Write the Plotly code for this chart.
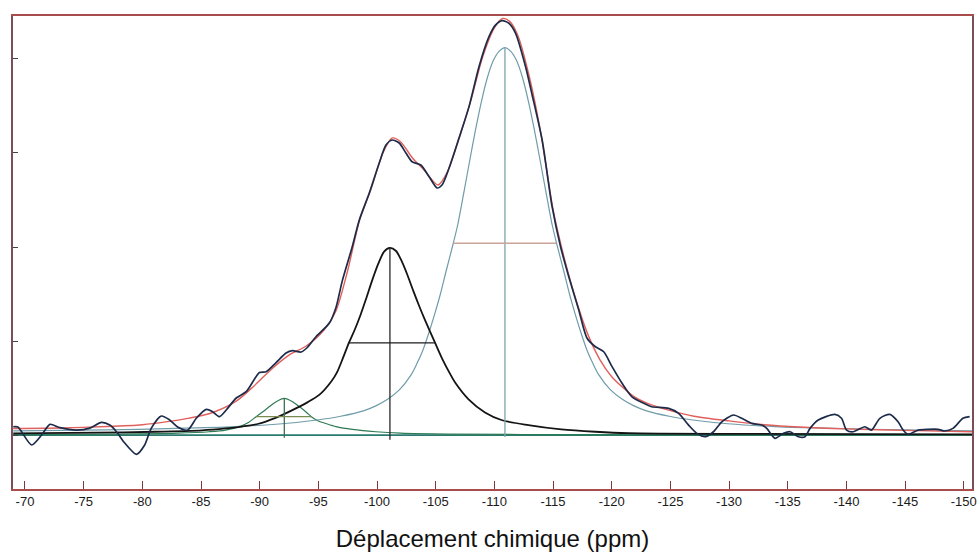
import plotly.graph_objects as go

# ---------------- data (ppm, arbitrary intensity) ----------------
exp_ppm = [-69.0, -69.4, -70.57, -71.42, -72.13, -72.98, -74.40, -75.53, -76.52, -77.23, -77.80, -78.50,
           -79.50, -80.20, -80.77, -81.62, -82.33, -83.01, -83.86, -84.60, -85.45, -85.99, -86.58, -87.15,
           -88.00, -88.85, -89.98, -90.55, -91.40, -92.25, -92.79, -93.53, -94.06, -94.80, -95.94, -96.51,
           -97.04, -97.89, -98.49, -99.34, -100.19, -100.76, -101.29, -101.89, -102.46, -102.99, -103.73,
           -104.44, -105.12, -105.54, -106.14, -106.99, -107.84, -108.69, -109.54, -110.11, -110.67, -111.24,
           -111.81, -112.66, -113.22, -114.07, -114.92, -115.64, -116.34, -117.19, -117.90, -118.61, -119.32,
           -120.03, -120.88, -121.73, -122.87, -123.40, -124.85, -125.70, -126.55, -127.25, -127.97, -128.67,
           -129.38, -130.37, -131.08, -131.93, -132.78, -133.21, -133.92, -134.63, -135.20, -135.90, -136.47,
           -136.90, -137.60, -139.02, -139.58, -140.01, -140.58, -141.57, -142.13, -142.85, -143.70, -144.40,
           -144.83, -145.26, -146.11, -146.96, -147.81, -148.38, -149.08, -149.93, -150.50]
exp_int = [0.088, 0.085, -0.106, 0.0, 0.114, 0.078, 0.053, 0.074, 0.135, 0.106, 0.035, -0.085,
           -0.205, -0.106, 0.074, 0.202, 0.160, 0.085, 0.053, 0.178, 0.273, 0.248, 0.195, 0.266,
           0.394, 0.461, 0.665, 0.673, 0.771, 0.872, 0.897, 0.883, 0.931, 1.046, 1.191, 1.360,
           1.640, 2.003, 2.287, 2.574, 2.894, 3.085, 3.138, 3.106, 3.000, 2.907, 2.872,
           2.748, 2.628, 2.660, 2.840, 3.160, 3.493, 3.918, 4.237, 4.362, 4.407, 4.380,
           4.273, 3.918, 3.617, 3.138, 2.429, 2.003, 1.684, 1.330, 1.029, 0.939, 0.886,
           0.727, 0.550, 0.407, 0.330, 0.301, 0.284, 0.231, 0.106, 0.018, -0.018, 0.035,
           0.141, 0.213, 0.178, 0.124, 0.106, 0.071, -0.035, 0.018, 0.035, -0.018, -0.018,
           0.071, 0.160, 0.220, 0.178, 0.053, 0.035, 0.088, 0.053, 0.178, 0.220, 0.141,
           0.053, 0.007, 0.053, 0.061, 0.061, 0.043, 0.071, 0.178, 0.195]

fit_ppm = [-69.0, -73.0, -77.0, -80.0, -82.0, -84.0, -86.0, -88.0, -89.5, -91.0, -92.5, -94.0, -95.5,
           -96.5, -97.5, -98.5, -99.5, -100.5, -101.3, -102.0, -103.0, -104.0, -105.2, -106.0, -107.0,
           -108.0, -109.0, -110.0, -110.7, -111.3, -112.0, -113.0, -114.0, -115.0, -116.0, -117.0,
           -118.0, -119.0, -120.0, -121.0, -122.0, -123.0, -125.0, -127.0, -130.0, -133.0, -136.0,
           -140.0, -145.0, -150.7]
fit_int = [0.07, 0.075, 0.09, 0.11, 0.14, 0.18, 0.24, 0.36, 0.52, 0.70, 0.85, 0.95, 1.12,
           1.32, 1.75, 2.28, 2.62, 3.00, 3.16, 3.12, 2.95, 2.82, 2.66, 2.80, 3.16,
           3.56, 4.02, 4.33, 4.43, 4.40, 4.25, 3.80, 3.18, 2.40, 1.86, 1.42,
           1.06, 0.80, 0.62, 0.50, 0.40, 0.34, 0.26, 0.20, 0.15, 0.11, 0.085,
           0.065, 0.05, 0.035]

comp_q4_ppm = [-69.0, -76.9, -82.9, -87.9, -91.9, -94.9, -96.9, -98.9, -99.9, -100.9, -101.9, -102.9,
               -103.4, -103.9, -104.4, -104.9, -105.4, -105.9, -106.5, -106.9, -107.4, -107.9, -108.4,
               -108.9, -109.4, -109.9, -110.4, -110.9, -111.4, -111.9, -112.4, -112.9, -113.4, -113.9,
               -114.4, -114.9, -115.3, -115.9, -116.4, -116.9, -117.4, -117.9, -118.4, -118.9, -119.9,
               -120.9, -121.9, -122.9, -124.9, -126.9, -129.9, -133.9, -138.9, -144.9, -150.7]
comp_q4_int = [0.045, 0.055, 0.07, 0.09, 0.12, 0.16, 0.20, 0.26, 0.31, 0.38, 0.48, 0.64,
               0.76, 0.90, 1.08, 1.28, 1.50, 1.75, 2.04, 2.25, 2.58, 2.92, 3.25,
               3.55, 3.80, 3.98, 4.08, 4.12, 4.08, 3.98, 3.80, 3.55, 3.25, 2.92,
               2.58, 2.25, 2.04, 1.75, 1.50, 1.28, 1.08, 0.90, 0.76, 0.64, 0.48,
               0.38, 0.31, 0.26, 0.20, 0.16, 0.12, 0.09, 0.07, 0.055, 0.045]

comp_q3_ppm = [-69.0, -76.1, -81.1, -85.1, -87.1, -88.5, -89.9, -91.3, -92.7, -94.1, -95.1, -96.1,
               -96.6, -97.1, -97.6, -98.1, -98.6, -99.1, -99.6, -100.1, -100.6, -101.1, -101.6, -102.1,
               -102.6, -103.1, -103.6, -104.1, -104.95, -105.6, -106.1, -106.7, -107.8, -109.2, -110.6,
               -112.9, -115.7, -118.6, -121.4, -131.1, -150.7]
comp_q3_int = [0.018, 0.025, 0.035, 0.05, 0.07, 0.09, 0.12, 0.18, 0.26, 0.35, 0.43, 0.57,
               0.67, 0.82, 0.98, 1.12, 1.28, 1.46, 1.65, 1.82, 1.95, 1.99, 1.96, 1.85,
               1.70, 1.53, 1.37, 1.22, 0.98, 0.80, 0.68, 0.55, 0.38, 0.24, 0.16,
               0.106, 0.06, 0.035, 0.02, 0.012, 0.008]

comp_q2_ppm = [-69.0, -78.0, -83.0, -85.7, -87.1, -88.5, -89.0, -89.7, -90.3, -90.8, -91.4, -92.1,
               -92.8, -93.4, -94.0, -94.4, -95.0, -95.7, -96.5, -97.9, -99.9, -102.0, -106.0, -115.0,
               -150.7]
comp_q2_int = [0.005, 0.01, 0.02, 0.035, 0.053, 0.10, 0.13, 0.195, 0.25, 0.30, 0.355, 0.39,
               0.355, 0.30, 0.24, 0.195, 0.15, 0.12, 0.09, 0.06, 0.035, 0.02, 0.01, 0.005,
               0.0]

# peak markers: centre, height, FWHM limits, stem bottom
peak_names = ["Q2", "Q3", "Q4"]
peak_centers = [-92.1, -101.1, -110.9]
peak_heights = [0.39, 1.99, 4.12]
half_heights = [0.195, 0.98, 2.04]
fwhm_left = [-89.7, -97.6, -106.5]
fwhm_right = [-94.4, -104.95, -115.3]
stem_bottom = [-0.03, -0.05, -0.02]

baseline_ppm = [-69.0, -150.7]
baseline_int = [0.0, 0.0]

x_ticks = [-70, -75, -80, -85, -90, -95, -100, -105, -110, -115, -120, -125, -130, -135, -140, -145, -150]
x_ticklabels = ["-70", "-75", "-80", "-85", "-90", "-95", "-100", "-105", "-110", "-115", "-120",
                "-125", "-130", "-135", "-140", "-145", "-150"]
y_ticks = [0, 1, 2, 3, 4]

# ---------------- styles ----------------
C_EXP = "#1d2b4a"
C_FIT = "#e0605c"
C_Q4 = "#6f9ca8"
C_Q3 = "#141414"
C_Q2 = "#2e7a55"
C_BASE = "#2a7a70"
stem_colors = ["#3d7050", "#2a2a2a", "#7ea3ad"]
hline_colors = ["#7a8a50", "#1e1e1e", "#c9a498"]

fig = go.Figure()

fig.add_trace(go.Scatter(x=baseline_ppm, y=baseline_int, mode="lines",
                         line=dict(color=C_BASE, width=1.8), hoverinfo="skip"))
fig.add_trace(go.Scatter(x=comp_q2_ppm, y=comp_q2_int, mode="lines", name="Q2",
                         line=dict(color=C_Q2, width=1.2, shape="spline", smoothing=0.8)))
fig.add_trace(go.Scatter(x=comp_q4_ppm, y=comp_q4_int, mode="lines", name="Q4",
                         line=dict(color=C_Q4, width=1.2, shape="spline", smoothing=0.8)))
fig.add_trace(go.Scatter(x=comp_q3_ppm, y=comp_q3_int, mode="lines", name="Q3",
                         line=dict(color=C_Q3, width=1.8, shape="spline", smoothing=0.8)))

for i in range(len(peak_centers)):
    fig.add_trace(go.Scatter(x=[peak_centers[i], peak_centers[i]], y=[stem_bottom[i], peak_heights[i]],
                             mode="lines", line=dict(color=stem_colors[i], width=1.3), hoverinfo="skip"))
    fig.add_trace(go.Scatter(x=[fwhm_left[i], fwhm_right[i]], y=[half_heights[i], half_heights[i]],
                             mode="lines", line=dict(color=hline_colors[i], width=1.3), hoverinfo="skip"))

fig.add_trace(go.Scatter(x=fit_ppm, y=fit_int, mode="lines", name="fit",
                         line=dict(color=C_FIT, width=1.4, shape="spline", smoothing=0.8)))
fig.add_trace(go.Scatter(x=exp_ppm, y=exp_int, mode="lines", name="exp",
                         line=dict(color=C_EXP, width=1.7, shape="spline", smoothing=0.7)))

fig.update_layout(
    width=980, height=555,
    margin=dict(l=13, r=6, t=16, b=66),
    paper_bgcolor="white", plot_bgcolor="white",
    showlegend=False,
    font=dict(family="Liberation Sans, Arial, sans-serif", color="#1a1a1a"),
)
fig.update_xaxes(
    range=[-68.98, -150.7], tickmode="array", tickvals=x_ticks, ticktext=x_ticklabels,
    ticks="inside", ticklen=8, tickcolor="#7a3a3a", tickwidth=1,
    showline=True, linecolor="#a84c4c", linewidth=1.5, mirror=True,
    showgrid=False, zeroline=False, automargin=False,
    tickfont=dict(size=13, color="#1a1a1a"),
    title=dict(text="Déplacement chimique (ppm)", font=dict(size=24, color="#111"), standoff=22),
)
fig.update_yaxes(
    range=[-0.574, 4.457], tickmode="array", tickvals=y_ticks, showticklabels=False,
    ticks="inside", ticklen=5, tickcolor="#404050", tickwidth=1,
    showline=True, linecolor="#7a4f58", linewidth=1.5, mirror=True,
    showgrid=False, zeroline=False,
)

fig.write_html("out.html")
